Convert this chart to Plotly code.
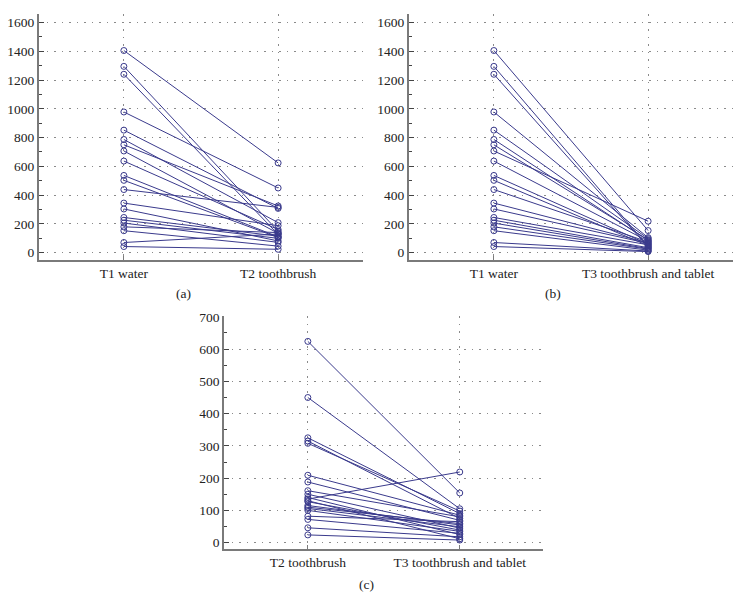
import plotly.graph_objects as go

t1_water = [1405, 1295, 1240, 978, 852, 787, 750, 707, 637, 537, 503, 439,
            345, 304, 245, 226, 206, 180, 153, 71, 43]
t2_toothbrush = [624, 150, 127, 450, 308, 209, 325, 135, 161, 110, 106, 315,
                 188, 82, 115, 100, 72, 140, 46, 130, 24]
t3_brush_tablet = [154, 45, 39, 105, 98, 85, 90, 219, 80, 59, 49, 75,
                   69, 65, 55, 35, 29, 25, 18, 12, 8]

labels_a = ["T1 water", "T2 toothbrush"]
labels_b = ["T1 water", "T3 toothbrush and tablet"]
labels_c = ["T2 toothbrush", "T3 toothbrush and tablet"]
panel_tags = ["(a)", "(b)", "(c)"]

W, H = 742, 610
LINE = "rgb(58,58,140)"
GRID = "#8a8a8a"
AXIS = "#7a7a7a"
FONT = "Liberation Serif"

fig = go.Figure()

def add_pairs(before, after, xa, ya):
    xs, ys = [], []
    for b, a in zip(before, after):
        xs += [0, 1, None]
        ys += [b, a, None]
    fig.add_trace(go.Scatter(
        x=xs, y=ys, mode="lines+markers", xaxis=xa, yaxis=ya,
        line=dict(color=LINE, width=1),
        marker=dict(symbol="circle-open", size=6, color=LINE, line=dict(width=1)),
        showlegend=False, hoverinfo="skip"))

add_pairs(t1_water, t2_toothbrush, "x", "y")
add_pairs(t1_water, t3_brush_tablet, "x2", "y2")
add_pairs(t2_toothbrush, t3_brush_tablet, "x3", "y3")

def px_x(p):
    return p / W

def px_y(p):
    return 1 - p / H

def xaxis(dom, labels, anchor):
    return dict(domain=dom, anchor=anchor, range=[-0.55, 1.55],
                tickvals=[0, 1], ticktext=labels, ticks="inside", ticklen=4,
                tickcolor=AXIS, showline=True, linecolor=AXIS, linewidth=2,
                showgrid=True, gridcolor=GRID, griddash="1.5px,6px", gridwidth=1,
                zeroline=False, tickfont=dict(family=FONT, size=13.5, color="#222"),
                fixedrange=True)

def yaxis(dom, rng, dtick, anchor):
    return dict(domain=dom, anchor=anchor, range=rng, tickmode="linear", tick0=0,
                dtick=dtick, ticks="inside", ticklen=5, tickcolor="#444",
                showline=True, linecolor=AXIS, linewidth=2,
                showgrid=True, gridcolor=GRID, griddash="1.5px,6px", gridwidth=1,
                zeroline=False, tickfont=dict(family=FONT, size=13.5, color="#222"),
                minor=dict(ticks="inside", ticklen=3, dtick=dtick / 2,
                           tickcolor="#444", showgrid=False),
                fixedrange=True)

ya_dom = [px_y(256), px_y(7.5)]
yc_dom = [px_y(549.3), px_y(313.5)]

fig.update_layout(
    width=W, height=H, margin=dict(l=0, r=0, t=0, b=0),
    paper_bgcolor="white", plot_bgcolor="white",
    xaxis=xaxis([px_x(39), px_x(363)], labels_a, "y"),
    yaxis=yaxis(ya_dom, [-48, 1656], 200, "x"),
    xaxis2=xaxis([px_x(409), px_x(733)], labels_b, "y2"),
    yaxis2=yaxis(ya_dom, [-48, 1656], 200, "x2"),
    xaxis3=xaxis([px_x(224.3), px_x(543.3)], labels_c, "y3"),
    yaxis3=yaxis(yc_dom, [-20, 701.5], 100, "x3"),
)

for tag, xc, yc in zip(panel_tags, [183, 553, 366.7], [290, 290, 585]):
    fig.add_annotation(text=tag, x=px_x(xc), y=px_y(yc), xref="paper", yref="paper",
                       showarrow=False, xanchor="center", yanchor="middle",
                       font=dict(family=FONT, size=13.5, color="#222"))

fig.write_html("out.html", config={"displayModeBar": False, "staticPlot": True})

# remove the default page margin so the figure sits at the window's top-left
with open("out.html", "r", encoding="utf-8") as f:
    html = f.read()
html = html.replace("<head>", "<head><style>html,body{margin:0;padding:0;overflow:hidden;}</style>", 1)
with open("out.html", "w", encoding="utf-8") as f:
    f.write(html)
